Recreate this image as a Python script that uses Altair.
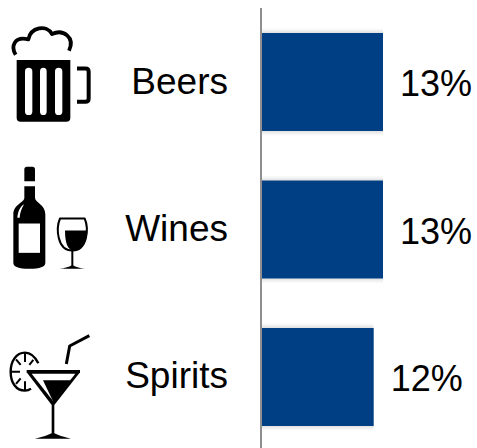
import altair as alt
import pandas as pd

drinks = ["Beers", "Wines", "Spirits"]
shares = [13, 13, 12]
origins = [0, 0, 0]

BLUE = "#003f84"
INK = "#000000"
FONT = "Liberation Sans"

# Glyphs are drawn in third-of-a-pixel units; a point size of 4/9 renders them 1:3.
GLYPH_SIZE = 4 / 9
GLYPH_RISE = {"Beers": 82, "Wines": 80, "Spirits": 77}

beer_parts = [
    ("M50 180 H211 V353 Q211 365 199 365 H62 Q50 365 50 353 Z", INK, None, 0),
    ("M75 214 Q75 203 86 203 Q97 203 97 214 V334 Q97 345 86 345 Q75 345 75 334 Z", "#ffffff", None, 0),
    ("M120 214 Q120 203 130 203 Q140 203 140 214 V334 Q140 345 130 345 Q120 345 120 334 Z", "#ffffff", None, 0),
    ("M165 214 Q165 203 176 203 Q187 203 187 214 V334 Q187 345 176 345 Q165 345 165 334 Z", "#ffffff", None, 0),
    ("M231 205 H256 Q266 205 266 215 V295 Q266 305 256 305 H231", None, INK, 4),
    ("M47 164 C32 140 42 108 85 118 C92 82 140 72 156 102 C190 86 226 112 207 152", None, INK, 3.8),
]

wine_parts = [
    ("M73 60 Q73 52 81 52 H97 Q105 52 105 60 V95 H73 Z", INK, None, 0),
    ("M73 110 H105 V145 C105 160 136 165 136 195 V340 C136 352 120 358 88 358 C56 358 40 352 40 340 V195 C40 165 73 160 73 145 Z", INK, None, 0),
    ("M56 222 H120 V310 H56 Z", "#ffffff", None, 0),
    ("M52 205 C54 185 60 172 72 164 C64 178 60 190 59 205 Z", "#ffffff", None, 0),
    ("M180 207 H254 C266 235 264 303 217 303 C170 303 168 235 180 207 Z", None, INK, 2),
    ("M195 243 H262 C262 280 240 303 217 303 C205 298 195 285 195 243 Z", INK, None, 0),
    ("M217 303 V352", None, INK, 2),
    ("M178 358 Q205 354 214 348 H220 Q229 354 255 358 Z", INK, None, 0),
]

spirit_parts = [
    ("M115 190 C105 170 92 158 75 158 C48 158 32 185 32 215 C32 248 48 272 75 272 C82 272 88 270 93 266", None, INK, 2.4),
    ("M75 160 V186 M48 178 L62 195 M34 215 H60 M48 252 L62 235 M75 244 V270 M100 180 L88 195", None, INK, 2),
    ("M80 210 H240 V217 L163 315 H155 L80 217 Z", INK, None, 0),
    ("M95 221 H226 L160 304 Z", "#ffffff", None, 0),
    ("M129 241 H212 L160 306 Z", INK, None, 0),
    ("M155 315 H163 V405 H155 Z", INK, None, 0),
    ("M105 416 Q140 408 155 400 H163 Q178 408 213 416 Z", INK, None, 0),
    ("M199 192 L209 138 L268 107", None, INK, 3),
]

glyphs = {"Beers": beer_parts, "Wines": wine_parts, "Spirits": spirit_parts}

table = pd.DataFrame({"drink": drinks, "share": shares, "origin": origins})
base = alt.Chart(table)

y_scale = alt.Scale(domain=drinks, range=[0, 448], paddingInner=0.336, paddingOuter=0.187, align=0.6)
x_scale = alt.Scale(domain=[-28.15, 23.1], nice=False, zero=False)
y_band = alt.Y("drink:N", axis=None, scale=y_scale)
x_origin = alt.X("origin:Q", axis=None, scale=x_scale)
x_share = alt.X("share:Q", axis=None, scale=x_scale)

# Soft edge above and below each bar, built from a few faint, slightly taller bars.
halo = [
    base.mark_bar(color="#7a7a7a", opacity=0.05, size=size).encode(x=x_origin, x2="share:Q", y=y_band)
    for size in (107, 104, 102, 100)
]
bars = base.mark_bar(color=BLUE).encode(x=x_origin, x2="share:Q", y=y_band)

baseline = base.mark_rule(color="#8f8f8f", strokeWidth=2, xOffset=-1).encode(
    x=x_origin,
    y=alt.value(8),
    y2=alt.value(448),
)

names = base.mark_text(align="right", baseline="alphabetic", dy=11.5, fontSize=37, font=FONT, color=INK).encode(
    x=alt.value(228), y=y_band, text="drink:N"
)
values = base.transform_calculate(label="datum.share + '%'").mark_text(
    align="left", baseline="alphabetic", dx=17, dy=14, fontSize=36, font=FONT, color=INK
).encode(x=x_share, y=y_band, text="label:N")

layers = [*halo, bars, baseline, names, values]
for drink in drinks:
    row = base.transform_filter(alt.datum.drink == drink)
    for path, fill, stroke, width in glyphs[drink]:
        style = {"fill": fill if fill else "transparent", "opacity": 1}
        if stroke:
            style.update(stroke=stroke, strokeWidth=width, strokeCap="butt", strokeJoin="round")
        else:
            style.update(strokeWidth=0)
        layers.append(
            row.mark_point(
                shape=path,
                size=GLYPH_SIZE,
                filled=bool(fill),
                yOffset=-GLYPH_RISE[drink],
                **style,
            ).encode(x=alt.value(0), y=y_band)
        )

chart = (
    alt.layer(*layers)
    .properties(width=477, height=448, padding=0, autosize=alt.AutoSizeParams(type="none"))
    .configure_view(stroke=None)
)

chart.save("out.html", embed_options={"renderer": "svg", "actions": False})
